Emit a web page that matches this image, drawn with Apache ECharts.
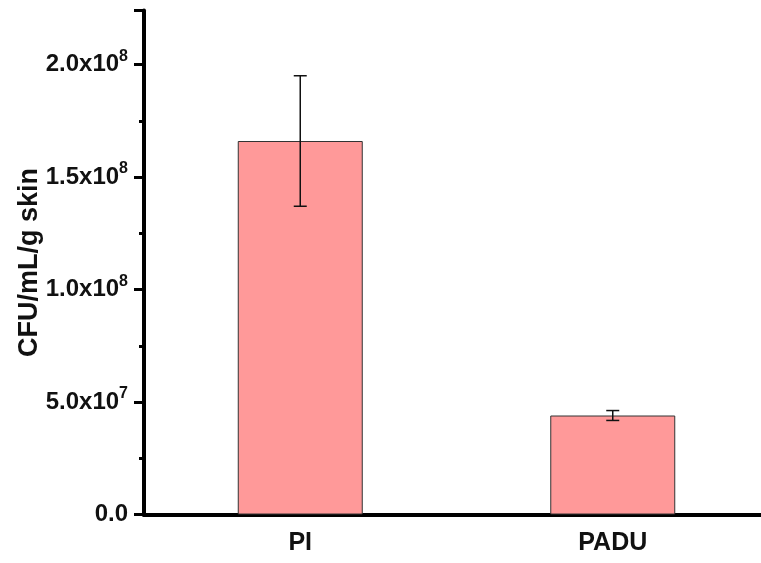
<!DOCTYPE html>
<html>
<head>
<meta charset="utf-8">
<script src="https://cdn.jsdelivr.net/npm/echarts@6/dist/echarts.min.js"></script>
<style>html,body{margin:0;padding:0;background:#fff}#c{width:761px;height:563px}</style>
</head>
<body>
<div id="c"></div>
<script>
const categories = ['PI', 'PADU'];
const means = [1.66e8, 4.4e7];
const errLow = [1.37e8, 4.18e7];
const errHigh = [1.95e8, 4.62e7];
const yTitle = 'CFU/mL/g skin';
const yMin = 0, yMax = 2.24e8, yMajor = 5e7, yMinor = 2.5e7;

const FONT = '"Liberation Sans", Arial, sans-serif';
const chart = echarts.init(document.getElementById('c'));

function fmt(v) {
  if (Math.abs(v % yMajor) > 1 && Math.abs(v % yMajor - yMajor) > 1) return '';
  if (v === 0) return '0.0';
  const e = Math.floor(Math.log10(v) + 1e-9);
  const m = (v / Math.pow(10, e)).toFixed(1);
  return m + 'x10{sup|' + e + '}';
}

chart.setOption({
  animation: false,
  backgroundColor: '#fff',
  grid: { left: 144, width: 625, top: 10.5, bottom: 48.5, containLabel: false, outerBoundsMode: 'none' },
  xAxis: [
    {
      type: 'category', data: categories, position: 'bottom',
      axisLine: { lineStyle: { color: '#000', width: 4 } },
      axisTick: { alignWithLabel: true, length: 8, lineStyle: { color: '#000', width: 4 } },
      axisLabel: { color: '#111', fontFamily: FONT, fontWeight: 'bold', fontSize: 25, margin: 16 },
      splitLine: { show: false }
    },
    {
      type: 'category', data: categories, position: 'top',
      axisLine: { lineStyle: { color: '#000', width: 4 } },
      axisTick: { show: false }, axisLabel: { show: false }, splitLine: { show: false }
    }
  ],
  yAxis: [
    {
      type: 'value', min: yMin, max: yMax, interval: yMajor, position: 'left',
      name: yTitle, nameLocation: 'middle', nameGap: 101, nameMoveOverlap: false,
      nameTextStyle: { color: '#111', fontFamily: FONT, fontWeight: 'bold', fontSize: 27 },
      axisLine: { show: true, lineStyle: { color: '#000', width: 4 } },
      axisTick: { show: true, length: 10, lineStyle: { color: '#000', width: 3 } },
      axisLabel: {
        color: '#111', fontFamily: FONT, fontWeight: 'bold', fontSize: 24, margin: 16,
        formatter: fmt,
        rich: { sup: { fontFamily: FONT, fontWeight: 'bold', fontSize: 16, color: '#111', verticalAlign: 'top', padding: [0, 0, 16, 0] } }
      },
      splitLine: { show: false }
    },
    {
      type: 'value', min: yMin, max: yMax, interval: yMinor, position: 'left',
      axisLine: { show: false },
      axisTick: { show: true, length: 5, lineStyle: { color: '#000', width: 3 } },
      axisLabel: { show: false },
      splitLine: { show: false }
    }
  ],
  series: [
    {
      type: 'bar', data: means, barWidth: '40%', xAxisIndex: 0, yAxisIndex: 0,
      itemStyle: { color: '#FF9999', borderColor: '#333', borderWidth: 1 }
    },
    {
      type: 'custom', xAxisIndex: 0, yAxisIndex: 0, z: 10,
      data: categories.map((c, i) => [i, errLow[i], errHigh[i]]),
      renderItem: function (params, api) {
        const lo = api.coord([api.value(0), api.value(1)]);
        const hi = api.coord([api.value(0), api.value(2)]);
        const hw = 6.5;
        const st = { stroke: '#111', lineWidth: 1.5, fill: null };
        return {
          type: 'group',
          children: [
            { type: 'line', shape: { x1: hi[0], y1: hi[1], x2: lo[0], y2: lo[1] }, style: st },
            { type: 'line', shape: { x1: hi[0] - hw, y1: hi[1], x2: hi[0] + hw, y2: hi[1] }, style: st },
            { type: 'line', shape: { x1: lo[0] - hw, y1: lo[1], x2: lo[0] + hw, y2: lo[1] }, style: st }
          ]
        };
      }
    }
  ]
});
</script>
</body>
</html>
